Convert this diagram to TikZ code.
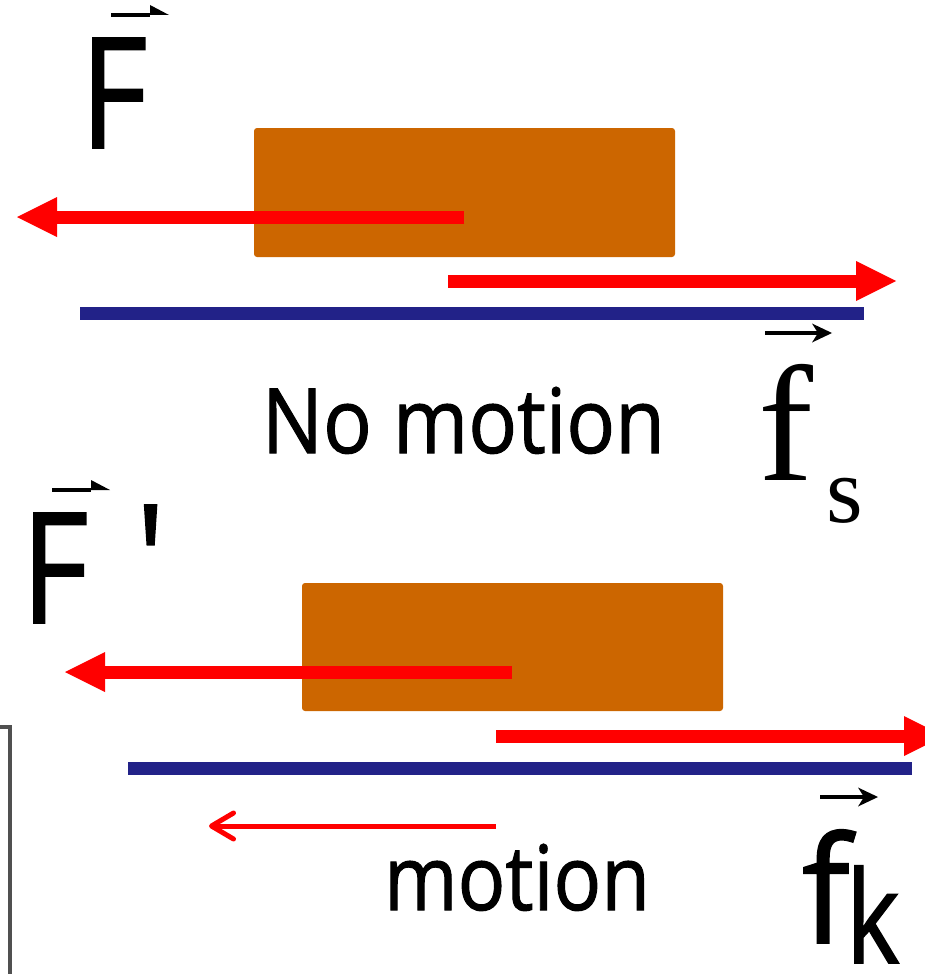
\documentclass[tikz,border=0pt]{standalone}
\usepackage{fontspec}
\usepackage{graphicx}
\newfontfamily\comic[FakeBold=1.2]{Open Sans}
\newfontfamily\timesfont{Liberation Serif}
\usetikzlibrary{arrows.meta}
\definecolor{blockc}{RGB}{204,102,0}
\definecolor{groundc}{RGB}{34,34,136}
\definecolor{forcec}{RGB}{255,0,0}
\definecolor{framec}{RGB}{80,80,80}
\begin{document}
\begin{tikzpicture}[x=1pt,y=-1pt,
  block/.style={fill=blockc, draw=none, rounded corners=3pt, inner sep=0pt, outer sep=0pt, anchor=north west},
  ground/.style={fill=groundc, draw=none, inner sep=0pt, outer sep=0pt, anchor=west, minimum height=13pt},
  force/.style={draw=forcec, line width=13pt, -{Triangle[length=40pt,width=40pt,line width=0pt]}},
  motionarrow/.style={draw=forcec, line width=5pt, -{Straight Barb[length=22pt,width=26pt,line cap=round,line join=round]}},
  vecharp/.style={draw=black, line width=4pt, -{Triangle[left,length=19pt,width=20pt,line width=0pt]}},
  vecarrow/.style={draw=black, line width=3.5pt, -{Stealth[length=20pt,width=19pt,inset=6pt,line width=0pt]}},
  lbl/.style={inner sep=0pt, outer sep=0pt, anchor=base west}
]
\useasboundingbox (0,0) rectangle (925,974);
\clip (0,0) rectangle (925,974);

% frame artifact at the lower left
\draw[framec, line width=4pt] (0,727) -- (10,727) -- (10,974);

% top scene
\node[block, minimum width=421pt, minimum height=129pt] (blk1) at (254,128) {};
\node[ground, minimum width=784pt] (gnd1) at (80,313) {};
\coordinate (p1s) at (464,217);
\coordinate (p1e) at (17,217);
\coordinate (f1s) at (448,281);
\coordinate (f1e) at (896,281);
\draw[force] (p1s) -- (p1e);
\draw[force] (f1s) -- (f1e);

% bottom scene
\node[block, minimum width=421pt, minimum height=128pt] (blk2) at (302,583) {};
\node[ground, minimum width=784pt] (gnd2) at (128,768) {};
\coordinate (p2s) at (512,672);
\coordinate (p2e) at (65,672);
\coordinate (f2s) at (496,736);
\coordinate (f2e) at (944,736);
\coordinate (m2s) at (496,826);
\coordinate (m2e) at (209,826);
\draw[force] (p2s) -- (p2e);
\draw[force] (f2s) -- (f2e);
\draw[motionarrow] (m2s) -- (m2e);

% labels
\node[lbl, font=\comic\fontsize{154}{154}\selectfont] (F1) at (80,148) {\scalebox{0.85}[1]{F}};
\coordinate (F1a) at (111,15);
\coordinate (F1b) at (169,15);
\draw[vecharp] (F1a) -- (F1b);

\node[lbl, font=\comic\fontsize{154}{154}\selectfont] (F2) at (21,623) {\scalebox{0.85}[1]{F\kern56pt\raisebox{8pt}{'}}};
\coordinate (F2a) at (52,490);
\coordinate (F2b) at (110,490);
\draw[vecharp] (F2a) -- (F2b);

\node[lbl, font=\comic\fontsize{90}{90}\selectfont] (nm) at (262,453) {\scalebox{0.9}[1]{No motion}};
\node[lbl, font=\comic\fontsize{90}{90}\selectfont] (mo) at (384,910) {\scalebox{0.88}[1]{motion}};

\node[lbl, font=\timesfont\fontsize{165}{165}\selectfont] (fs) at (758,480) {f};
\node[lbl, font=\timesfont\fontsize{94}{94}\selectfont] (fss) at (826,522) {s};
\coordinate (fsa) at (765,333);
\coordinate (fsb) at (832,333);
\draw[vecarrow] (fsa) -- (fsb);

\node[lbl, font=\comic\fontsize{148}{148}\selectfont] (fk) at (802,943) {\scalebox{0.95}[1]{f}};
\node[lbl, font=\comic\fontsize{128}{128}\selectfont] (fkk) at (846,963) {\scalebox{0.8}[1]{k}};
\coordinate (fka) at (820,797);
\coordinate (fkb) at (878,797);
\draw[vecarrow] (fka) -- (fkb);
\end{tikzpicture}
\end{document}
